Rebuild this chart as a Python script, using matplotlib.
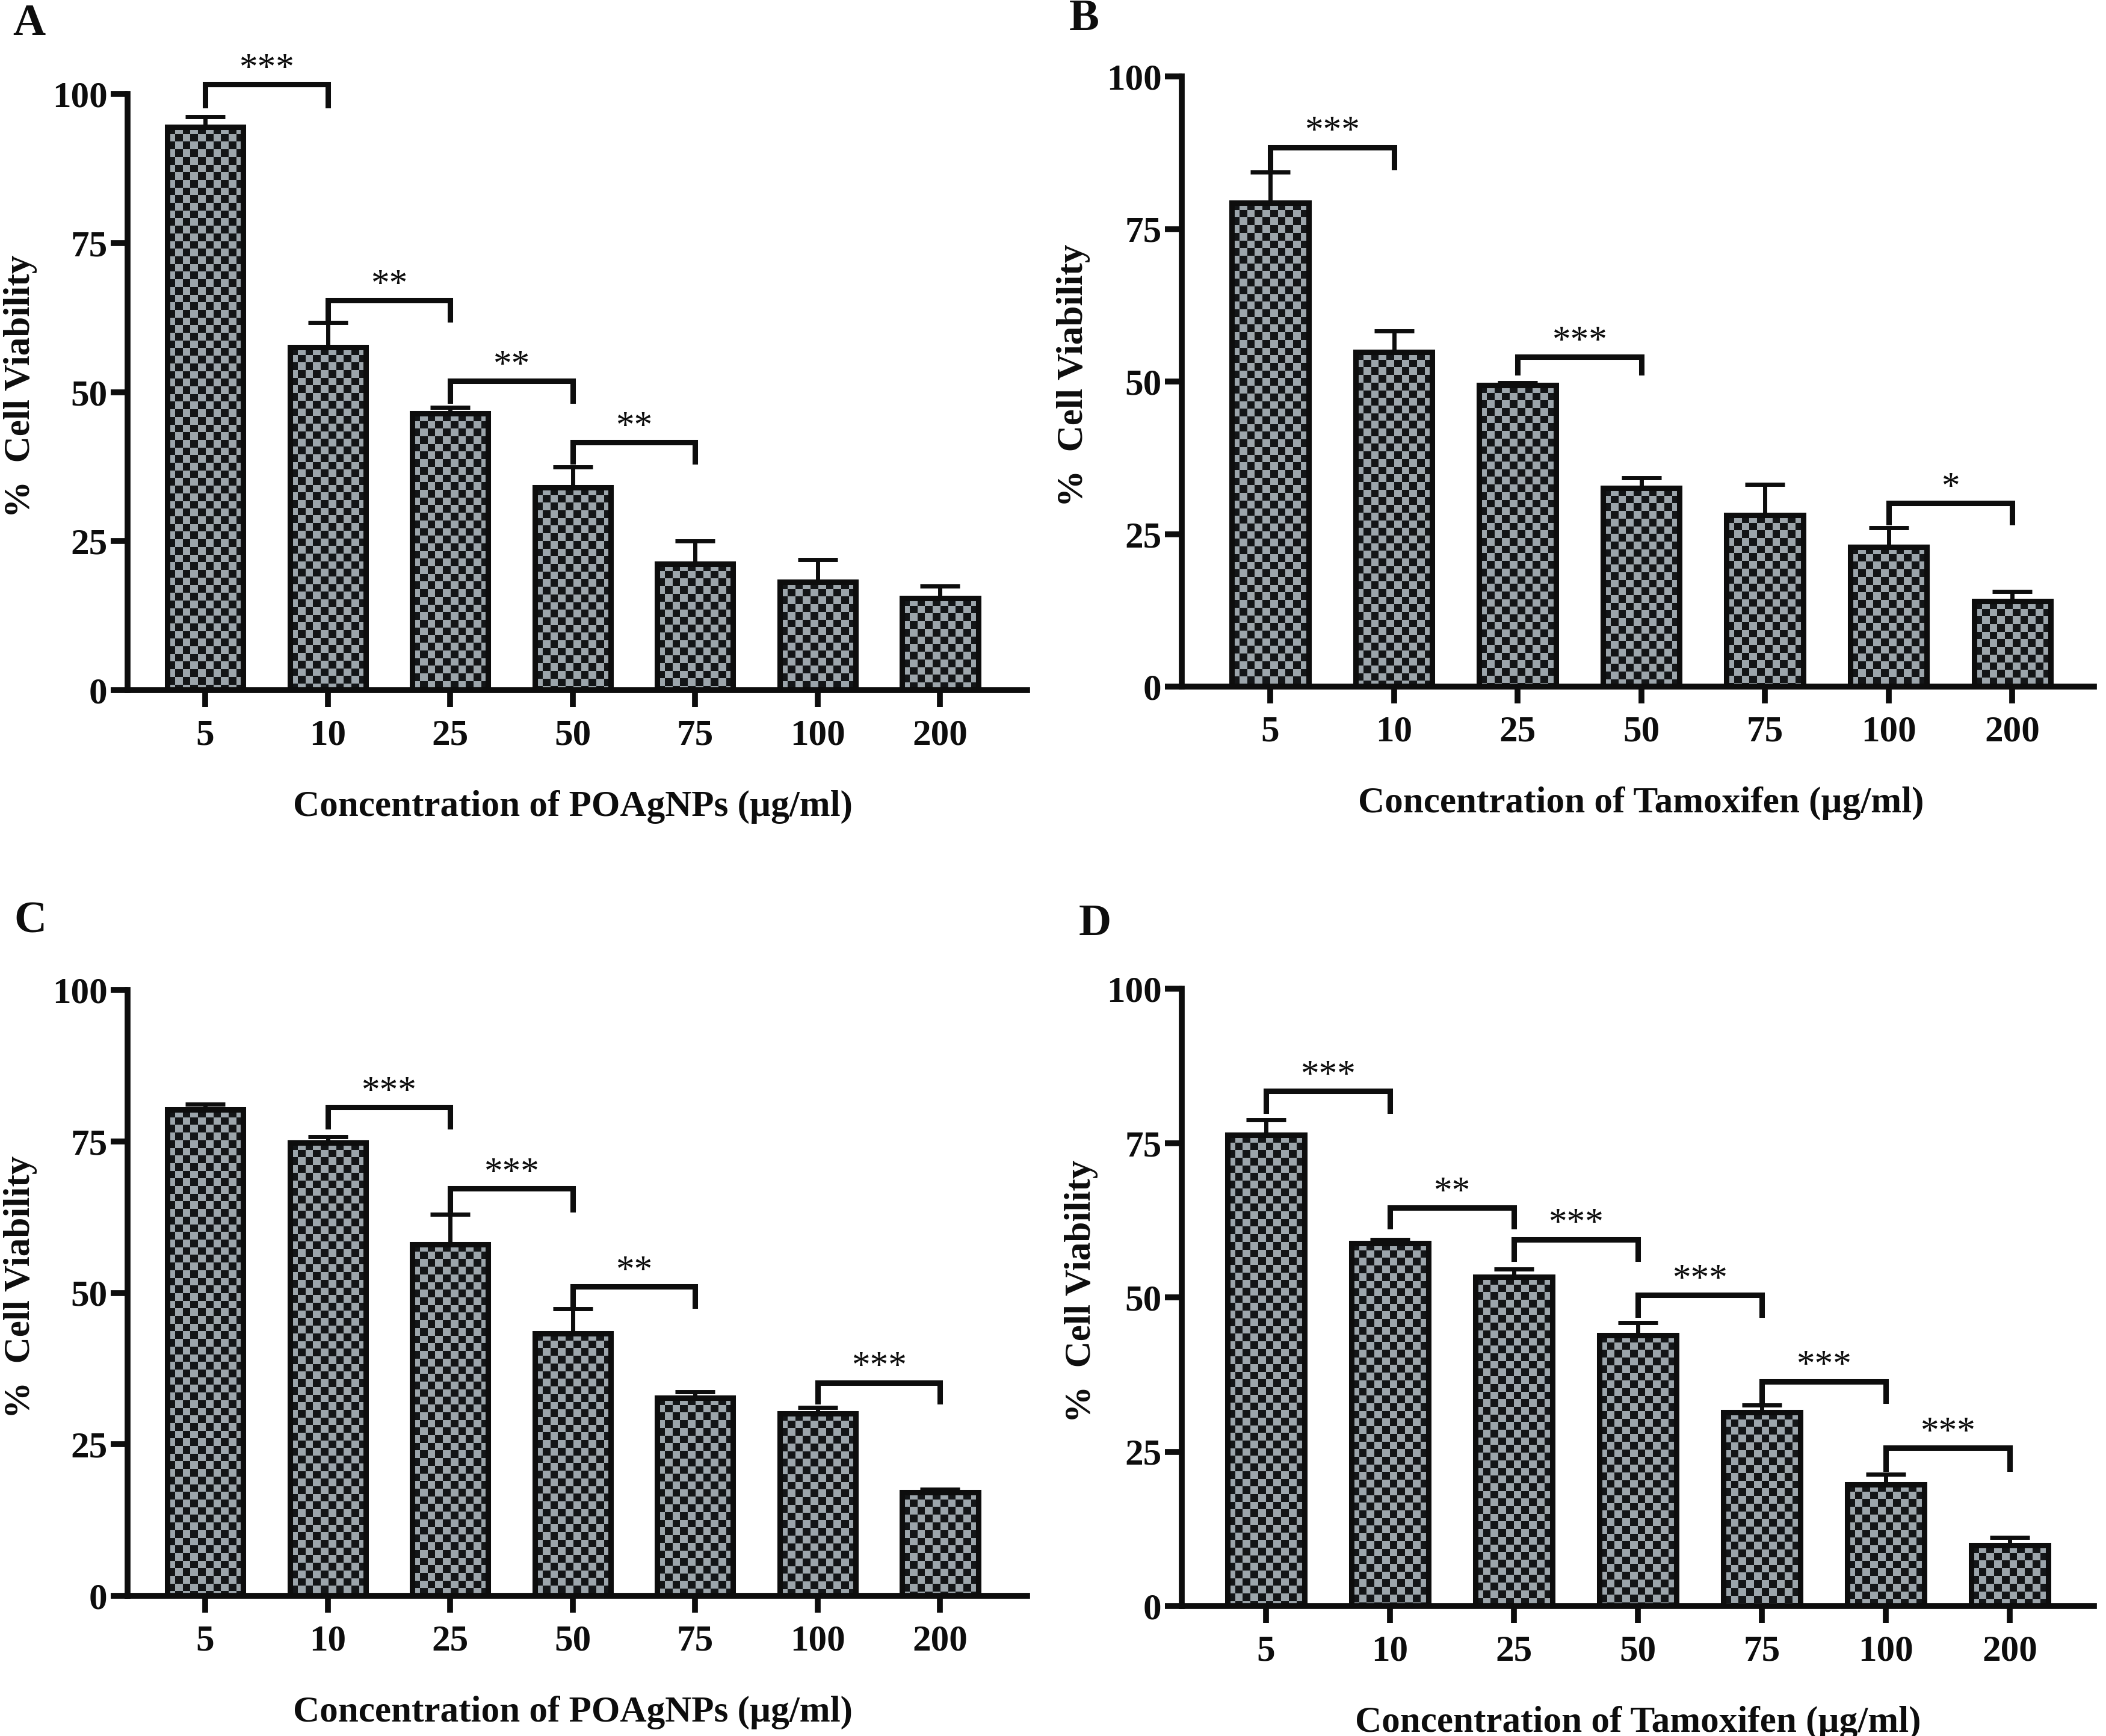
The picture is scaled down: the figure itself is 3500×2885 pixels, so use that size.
import numpy as np
import matplotlib
matplotlib.use("Agg")
import matplotlib.pyplot as plt
from matplotlib.colors import ListedColormap

# Données (% viabilité cellulaire, moyenne + erreur)
DOSES = ["5", "10", "25", "50", "75", "100", "200"]

A_MEAN = [94.5, 57.5, 46.4, 34.0, 21.2, 18.2, 15.4]
A_ERR = [1.7, 4.2, 1.0, 3.4, 3.8, 3.7, 2.1]
B_MEAN = [79.3, 54.8, 49.4, 32.5, 28.1, 22.9, 14.0]
B_ERR = [5.0, 3.5, 0.4, 1.7, 5.0, 3.1, 1.6]
C_MEAN = [80.2, 74.8, 58.0, 43.3, 32.7, 30.1, 17.1]
C_ERR = [0.9, 1.0, 5.0, 4.1, 1.0, 1.0, 0.5]
D_MEAN = [76.3, 58.8, 53.3, 43.9, 31.4, 19.7, 9.8]
D_ERR = [2.5, 0.6, 1.3, 2.0, 1.2, 1.6, 1.3]

# comparaisons : (barre gauche, barre droite, étoiles, niveau, bas des pattes)
A_SIG = [(0, 1, "***", 101.6, 98.1), (1, 2, "**", 65.4, 62.2),
         (2, 3, "**", 51.9, 48.5), (3, 4, "**", 41.6, 38.3)]
B_SIG = [(0, 1, "***", 88.4, 85.1), (2, 3, "***", 54.0, 51.5),
         (5, 6, "*", 30.1, 26.9)]
C_SIG = [(1, 2, "***", 80.6, 77.5), (2, 3, "***", 67.2, 63.8),
         (3, 4, "**", 51.0, 47.9), (5, 6, "***", 35.2, 32.1)]
D_SIG = [(0, 1, "***", 83.4, 80.2), (1, 2, "**", 64.5, 61.5),
         (2, 3, "***", 59.4, 56.2), (3, 4, "***", 50.4, 47.2),
         (4, 5, "***", 36.4, 33.2), (5, 6, "***", 25.6, 22.2)]

XLABEL_NP = "Concentration of POAgNPs (\u00b5g/ml)"
XLABEL_TAM = "Concentration of Tamoxifen (\u00b5g/ml)"

# Style
FIG_W, FIG_H, DPI = 3500, 2885, 100
INK = "#0d0d0d"
CHECK_CMAP = ListedColormap(["#131517", "#9ca5ab"])
SQ = 12.7          # taille d'une case du damier (px)
BAR_W = 0.62
FS_TICK = 44
FS_LABEL = 44
FS_STAR = 44

plt.rcParams["font.family"] = ["Liberation Serif", "DejaVu Serif"]
plt.rcParams["font.weight"] = "bold"


def px_rect(left, top, right, bottom):
    """Rectangle en pixels -> coordonnées figure"""
    return [left / FIG_W, 1 - bottom / FIG_H, (right - left) / FIG_W, (bottom - top) / FIG_H]


def draw_panel(ax, rect_px, means, errs, sigs, xlabel, xlim, ylab_x):
    x = np.arange(len(DOSES))
    ax.set_xlim(*xlim)
    ax.set_ylim(0, 100)

    w_px = rect_px[2] - rect_px[0]
    h_px = rect_px[3] - rect_px[1]
    px_per_x = w_px / (xlim[1] - xlim[0])
    px_per_y = h_px / 100.0

    bars = ax.bar(x, means, BAR_W, facecolor="none", edgecolor=INK,
                  linewidth=6.5, zorder=3)

    # damier dans chaque barre
    for bar in bars:
        x0, w = bar.get_x(), bar.get_width()
        top = bar.get_height()
        nx = int(np.ceil(w * px_per_x / SQ))
        ny = int(np.ceil(top * px_per_y / SQ)) + 1
        board = np.add.outer(np.arange(ny), np.arange(nx)) % 2
        im = ax.imshow(board, cmap=CHECK_CMAP, interpolation="nearest",
                       extent=(x0, x0 + nx * SQ / px_per_x,
                               top - ny * SQ / px_per_y, top),
                       aspect="auto", zorder=2)
        im.set_clip_path(bar)

    ax.errorbar(x, means, yerr=[np.zeros(len(means)), errs], fmt="none",
                ecolor=INK, elinewidth=5, capsize=24, capthick=5, zorder=2.5)

    # crochets de significativité
    for i, j, stars, level, foot in sigs:
        ax.plot([x[i], x[i], x[j], x[j]], [foot, level, level, foot],
                color=INK, linewidth=6.5, solid_joinstyle="miter",
                clip_on=False, zorder=4)
        ax.text((x[i] + x[j]) / 2, level + 1.0, stars, ha="center", va="baseline",
                fontsize=FS_STAR, fontweight="normal", color=INK)

    ax.set_xlim(*xlim)
    ax.set_ylim(0, 100)
    ax.set_yticks([0, 25, 50, 75, 100])
    ax.set_xticks(x)
    ax.set_xticklabels(DOSES)

    for side in ("top", "right"):
        ax.spines[side].set_visible(False)
    for side in ("left", "bottom"):
        ax.spines[side].set_linewidth(7)
        ax.spines[side].set_color(INK)
        ax.spines[side].set_capstyle("projecting")

    ax.tick_params(axis="both", length=20, width=7, color=INK,
                   labelsize=FS_TICK, labelcolor=INK)
    ax.tick_params(axis="x", pad=14)
    ax.tick_params(axis="y", pad=4)

    ax.set_ylabel("%  Cell Viability", fontsize=FS_LABEL, fontweight="bold", color=INK)
    ax.yaxis.set_label_coords(ylab_x, 0.51)
    ax.set_xlabel(xlabel, fontsize=FS_LABEL, fontweight="bold", color=INK)
    ax.xaxis.set_label_coords((3 - xlim[0]) / (xlim[1] - xlim[0]), -166 / h_px)


def main():
    fig = plt.figure(figsize=(FIG_W / DPI, FIG_H / DPI), dpi=DPI, facecolor="white")

    panels = [
        ("A", (212, 156, 1707, 1147), A_MEAN, A_ERR, A_SIG, XLABEL_NP, (-0.634, 6.71), -0.100, (48, 40)),
        ("B", (1964, 127, 3480, 1141), B_MEAN, B_ERR, B_SIG, XLABEL_TAM, (-0.715, 6.66), -0.100, (1802, 32)),
        ("C", (212, 1645, 1707, 2652), C_MEAN, C_ERR, C_SIG, XLABEL_NP, (-0.634, 6.71), -0.100, (50, 1531)),
        ("D", (1964, 1643, 3480, 2669), D_MEAN, D_ERR, D_SIG, XLABEL_TAM, (-0.68, 6.68), -0.092, (1820, 1536)),
    ]

    for letter, rect, means, errs, sigs, xlabel, xlim, ylab_x, lpos in panels:
        ax = fig.add_axes(px_rect(*rect))
        draw_panel(ax, rect, means, errs, sigs, xlabel, xlim, ylab_x)
        fig.text(lpos[0] / FIG_W, 1 - lpos[1] / FIG_H, letter, ha="center", va="center",
                 fontsize=54, fontweight="bold", color=INK)

    fig.savefig("out.png", dpi=DPI, facecolor="white")
    plt.close(fig)


if __name__ == "__main__":
    main()
